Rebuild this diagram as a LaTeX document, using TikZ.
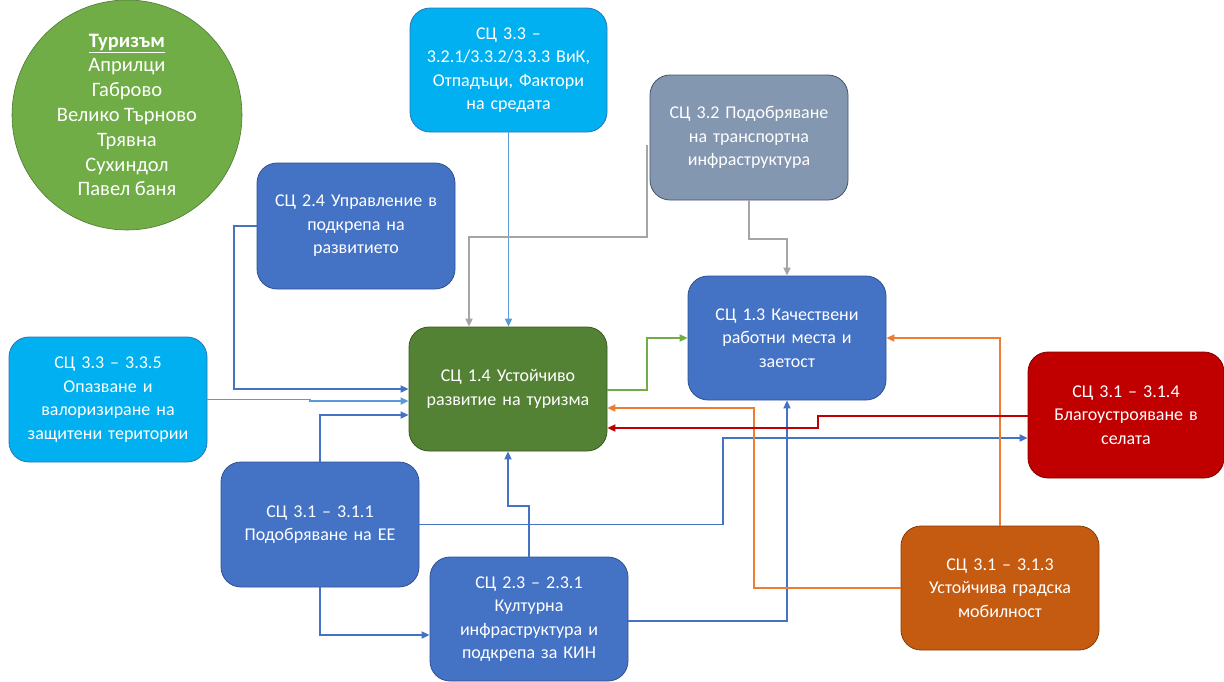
\documentclass[tikz,border=0pt]{standalone}
\usepackage{fontspec}
\setmainfont{Carlito}
\usetikzlibrary{arrows.meta,calc}
\definecolor{cblue}{HTML}{4472C4}
\definecolor{cblueB}{HTML}{2F528F}
\definecolor{clblue}{HTML}{00B0F0}
\definecolor{clblueB}{HTML}{2E75B6}
\definecolor{cgreen}{HTML}{548235}
\definecolor{cgreenB}{HTML}{385723}
\definecolor{cgrey}{HTML}{8497B0}
\definecolor{cgreyB}{HTML}{44546A}
\definecolor{cred}{HTML}{C00000}
\definecolor{credB}{HTML}{7F0000}
\definecolor{corange}{HTML}{C55A11}
\definecolor{corangeB}{HTML}{843C0C}
\definecolor{ccircle}{HTML}{70AD47}
\definecolor{lnblue}{HTML}{4472C4}
\definecolor{lnlblue}{HTML}{5B9BD5}
\definecolor{lngrey}{HTML}{A5A5A5}
\definecolor{lngreen}{HTML}{70AD47}
\definecolor{lnorange}{HTML}{ED7D31}
\definecolor{lnred}{HTML}{C00000}
\tikzset{
  boxbase/.style={rounded corners=20pt, minimum width=198pt, minimum height=125pt,
    text width=196pt, align=center, text=white, inner sep=0pt, line width=0.8pt,
    font=\fontsize{18}{23.5}\selectfont},
  bluebox/.style={boxbase, fill=cblue, draw=cblueB},
  lbluebox/.style={boxbase, fill=clblue, draw=clblueB},
  greenbox/.style={boxbase, fill=cgreen, draw=cgreenB},
  greybox/.style={boxbase, fill=cgrey, draw=cgreyB},
  redbox/.style={boxbase, fill=cred, draw=credB},
  orangebox/.style={boxbase, fill=corange, draw=corangeB},
  conn/.style={line width=1.8pt, -{Triangle[length=8pt,width=7pt]}},
  cb/.style={conn, draw=lnblue},
  clb/.style={conn, draw=lnlblue},
  cgr/.style={conn, draw=lngrey},
  cgn/.style={conn, draw=lngreen},
  cor/.style={conn, draw=lnorange},
  crd/.style={conn, draw=lnred},
}
\begin{document}
\begin{tikzpicture}[x=1pt,y=-1pt]
\useasboundingbox (0,0) rectangle (1224,681);
% circle
\node (tour) [circle, fill=ccircle, draw=cgreenB!60!ccircle, line width=0.6pt, minimum size=230pt,
  text=white, align=center, font=\fontsize{20.5}{24.8}\selectfont, inner sep=0pt] at (127,115)
  {\underline{\textbf{Туризъм}}\\Априлци\\Габрово\\Велико Търново\\Трявна\\Сухиндол\\Павел баня};
% boxes
\node (b33t) [lbluebox, minimum width=197pt, minimum height=124pt] at (508.5,70) {СЦ 3.3 –\\3.2.1/3.3.2/3.3.3 ВиК,\\Отпадъци, Фактори\\на средата};
\node (b32) [greybox] at (749,137.5) {СЦ 3.2 Подобряване\\на транспортна\\инфраструктура};
\node (b24) [bluebox, minimum height=126pt] at (356,226) {СЦ 2.4 Управление в\\подкрепа на\\развитието};
\node (b14) [greenbox, minimum height=124pt] at (508,389) {СЦ 1.4 Устойчиво\\развитие на туризма};
\node (b13) [bluebox, minimum height=124pt] at (787,338) {СЦ 1.3 Качествени\\работни места и\\заетост};
\node (b335) [lbluebox] at (108,399.5) {СЦ 3.3 – 3.3.5\\Опазване и\\валоризиране на\\защитени територии};
\node (b314) [redbox, minimum width=196pt, minimum height=126pt] at (1126,415) {СЦ 3.1 – 3.1.4\\Благоустрояване в\\селата};
\node (b311) [bluebox] at (320,524.5) {СЦ 3.1 – 3.1.1\\Подобряване на ЕЕ};
\node (b231) [bluebox, minimum height=124pt] at (529,619) {СЦ 2.3 – 2.3.1\\Културна\\инфраструктура и\\подкрепа за КИН};
\node (b313) [orangebox, minimum height=124pt] at (1000,588) {СЦ 3.1 – 3.1.3\\Устойчива градска\\мобилност};
% connectors
\coordinate (g0) at (647,145);
\draw[clb] (b33t.south) -- (b33t.south |- b14.north);
\draw[cgr] (g0) -- (647,237) -| ($(b14.north)+(-39,0)$);
\draw[cgr] (b32.south) -- (749,239) -| (b13.north);
\draw[cb] (b24.west) -- (234,226) |- (b14.west);
\draw[clb] (b335.east) -- (310,399.5) -- (310,401) -- ($(b14.west)+(0,12)$);
\draw[cb] (b311.north) |- ($(b14.west)+(0,26)$);
\draw[cgn] ($(b14.east)+(0,1)$) -- (647,390) |- (b13.west);
\draw[cb] (b311.east) -- (723,524.5) |- ($(b314.west)+(0,23)$);
\draw[cb] (b231.north) -- (529,506) -| (b14.south);
\draw[cb] (b311.south) |- ($(b231.west)+(0,16)$);
\draw[cb] ($(b231.east)+(0,2)$) -| (b13.south);
\draw[cor] (b313.west) -- (754,588) |- ($(b14.east)+(0,19)$);
\draw[cor] (b313.north) |- (b13.east);
\draw[crd] ($(b314.west)+(0,1)$) -- (818,416) -- (818,428) -- ($(b14.east)+(0,39)$);
\end{tikzpicture}
\end{document}
